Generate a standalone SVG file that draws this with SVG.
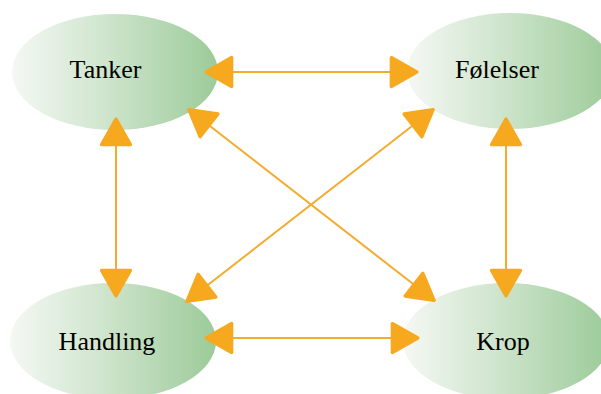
<svg xmlns="http://www.w3.org/2000/svg" width="601" height="394" viewBox="0 0 601 394">
<style>
.lbl{font-family:"Liberation Serif","Times New Roman",serif;font-size:26px;fill:#000;text-anchor:middle}
.node{fill:url(#g)}
.conn{stroke:#f5ab2e;stroke-width:2;fill:none;marker-start:url(#ah);marker-end:url(#ah)}
</style>
<defs>
<linearGradient id="g" x1="0" y1="0" x2="1" y2="0">
<stop offset="0" stop-color="#f5f8f4"/>
<stop offset="0.45" stop-color="#cfe5cd"/>
<stop offset="1" stop-color="#9ccb99"/>
</linearGradient>
<marker id="ah" markerUnits="userSpaceOnUse" markerWidth="40" markerHeight="40" viewBox="-4 -18 32 36" refX="24" refY="0" orient="auto-start-reverse">
<path d="M0,-13 L23,0 L0,13 Z" fill="#f6a81f" stroke="#f6a81f" stroke-width="3" stroke-linejoin="round"/>
</marker>
</defs>
<g id="tanker"><ellipse class="node" cx="115" cy="72" rx="103" ry="58"/><text class="lbl" x="105.5" y="78">Tanker</text></g>
<g id="folelser"><ellipse class="node" cx="510" cy="71" rx="103" ry="58"/><text class="lbl" x="497" y="78">Følelser</text></g>
<g id="handling"><ellipse class="node" cx="113" cy="341" rx="103" ry="58"/><text class="lbl" x="107" y="350">Handling</text></g>
<g id="krop"><ellipse class="node" cx="506" cy="341" rx="103" ry="58"/><text class="lbl" x="503" y="350">Krop</text></g>
<g id="connectors">
<line class="conn" x1="205" y1="72" x2="418" y2="72"/>
<line class="conn" x1="205" y1="338" x2="419" y2="338"/>
<line class="conn" x1="116" y1="118" x2="116" y2="297"/>
<line class="conn" x1="506" y1="118" x2="506" y2="297"/>
<line class="conn" x1="188" y1="109" x2="435" y2="301"/>
<line class="conn" x1="434" y1="109" x2="186" y2="302"/>
</g>
</svg>
